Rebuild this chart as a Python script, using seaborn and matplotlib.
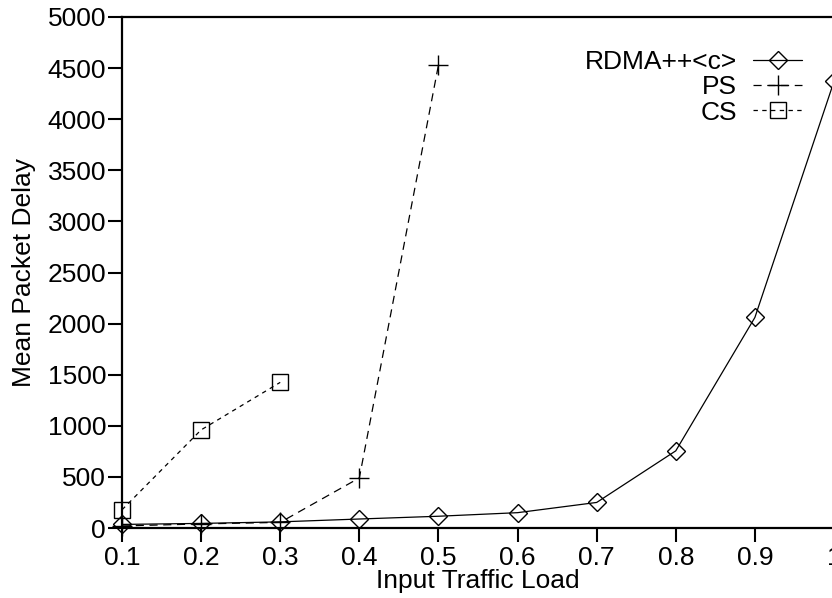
"""
Mean packet delay vs input traffic load for RDMA++<c>, PS and CS.
Values read off the original gnuplot figure.
"""
import numpy as np
import pandas as pd
import matplotlib
matplotlib.use("Agg")
import matplotlib.pyplot as plt
import seaborn as sns

# --- data ---------------------------------------------------------------
load_rdma = [0.1, 0.2, 0.3, 0.4, 0.5, 0.6, 0.7, 0.8, 0.9, 1.0]
delay_rdma = [35, 45, 60, 88, 115, 150, 250, 755, 2060, 4370]

load_ps = [0.1, 0.2, 0.3, 0.4, 0.5]
delay_ps = [20, 40, 55, 490, 4530]

load_cs = [0.1, 0.2, 0.3]
delay_cs = [178, 960, 1425]

x_ticks = [0.1, 0.2, 0.3, 0.4, 0.5, 0.6, 0.7, 0.8, 0.9, 1.0]
x_tick_labels = ["0.1", "0.2", "0.3", "0.4", "0.5", "0.6", "0.7", "0.8", "0.9", "1"]
y_ticks = [0, 500, 1000, 1500, 2000, 2500, 3000, 3500, 4000, 4500, 5000]

df = pd.concat([
    pd.DataFrame({"load": load_rdma, "delay": delay_rdma, "scheme": "RDMA++<c>"}),
    pd.DataFrame({"load": load_ps, "delay": delay_ps, "scheme": "PS"}),
    pd.DataFrame({"load": load_cs, "delay": delay_cs, "scheme": "CS"}),
], ignore_index=True)

styles = {
    "RDMA++<c>": dict(marker=(4, 0, 0), dashes=None, ms=13),
    "PS": dict(marker="+", dashes=(6.5, 4.5), ms=15),
    "CS": dict(marker="s", dashes=(3.5, 3.5), ms=12),
}

# --- plot ---------------------------------------------------------------
sns.set_style("ticks")
plt.rcParams["font.family"] = ["Liberation Sans", "DejaVu Sans"]
plt.rcParams["font.size"] = 19
plt.rcParams["text.color"] = "black"
plt.rcParams["axes.labelcolor"] = "black"
plt.rcParams["xtick.color"] = "black"
plt.rcParams["ytick.color"] = "black"

fig = plt.figure(figsize=(8.32, 5.98), dpi=100)
W, H = 832, 598
ax = fig.add_axes([122 / W, (H - 528) / H, (834 - 122) / W, (528 - 17) / H])

for name, st in styles.items():
    sub = df[df["scheme"] == name]
    kw = dict(color="black", linewidth=0.9, marker=st["marker"], markersize=st["ms"],
              markerfacecolor="none", markeredgecolor="black", markeredgewidth=1.0,
              clip_on=False)
    sns.lineplot(data=sub, x="load", y="delay", ax=ax, label=name, **kw)
    line = ax.get_lines()[-1]
    line.set_clip_on(False)
    if st["dashes"] is not None:
        line.set_dashes(st["dashes"])

ax.set_xlim(0.1, 1.0)
ax.set_ylim(0, 5000)
ax.set_xticks(x_ticks)
ax.set_xticklabels(x_tick_labels)
ax.set_yticks(y_ticks)
ax.tick_params(direction="out", length=10, width=1.5, labelsize=19, colors="black")
ax.tick_params(axis="y", pad=1.5)
ax.tick_params(axis="x", pad=3)
for side in ["left", "bottom", "top", "right"]:
    ax.spines[side].set_visible(True)
    ax.spines[side].set_linewidth(1.6)
    ax.spines[side].set_color("black")
ax.grid(False)

ax.set_xlabel("Input Traffic Load", fontsize=19, labelpad=-1)
ax.set_ylabel("Mean Packet Delay", fontsize=19, labelpad=8)

leg = ax.legend(loc="upper right", bbox_to_anchor=(802 / W, (H - 50) / H),
                bbox_transform=fig.transFigure, frameon=False, markerfirst=False,
                handlelength=1.85, handletextpad=0.6, labelspacing=0.05,
                borderpad=0, borderaxespad=0, numpoints=1, fontsize=19)

fig.savefig("out.png", dpi=100)
plt.close(fig)
